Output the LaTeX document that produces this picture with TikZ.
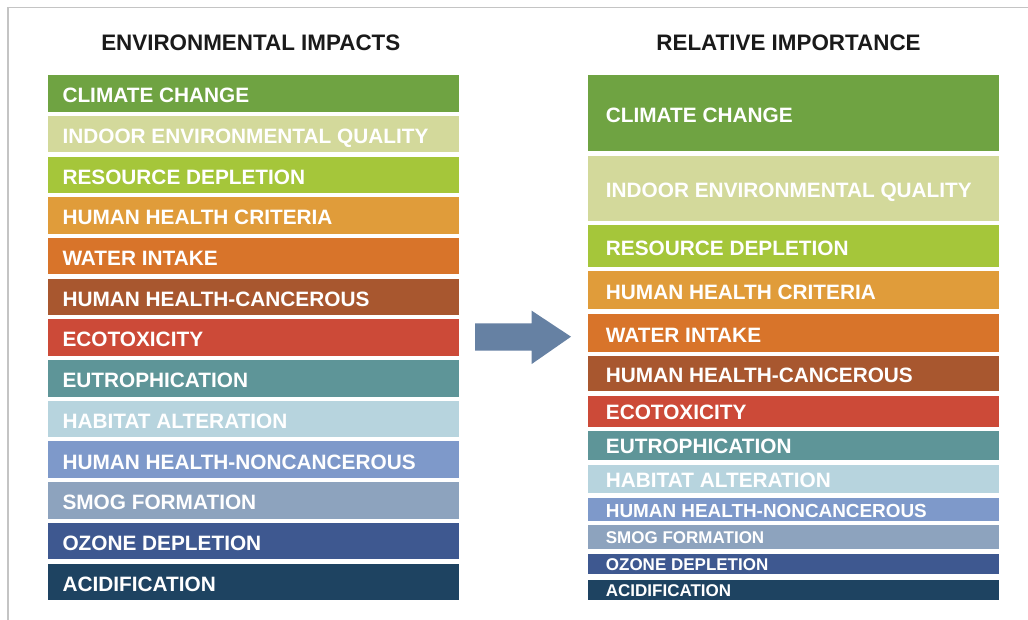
\documentclass[tikz,border=0pt]{standalone}
\usepackage{fontspec}
\setmainfont{Liberation Sans}
\usetikzlibrary{calc}
\definecolor{cCC}{HTML}{6FA342}
\definecolor{cIEQ}{HTML}{D3D99B}
\definecolor{cRD}{HTML}{A5C63A}
\definecolor{cHHC}{HTML}{E09C3A}
\definecolor{cWI}{HTML}{D8742A}
\definecolor{cHCa}{HTML}{A8572F}
\definecolor{cEco}{HTML}{CC4A38}
\definecolor{cEut}{HTML}{5E9598}
\definecolor{cHab}{HTML}{B7D4DE}
\definecolor{cHHN}{HTML}{7E99CA}
\definecolor{cSmog}{HTML}{8DA3BE}
\definecolor{cOzo}{HTML}{3E5890}
\definecolor{cAci}{HTML}{1E4361}
\definecolor{arrowcol}{HTML}{6681A3}
\definecolor{framecol}{HTML}{C4C4C4}
\definecolor{titlecol}{HTML}{1A1A1A}
\begin{document}
\begin{tikzpicture}[x=1pt,y=-1pt,
  bar/.style={rectangle, draw=none, inner sep=0pt, anchor=north west, minimum width=411pt},
  lbl/.style={inner sep=0pt, anchor=base west, text=white, font=\bfseries\fontsize{20.8}{24}\selectfont},
  lblm/.style={lbl, font=\bfseries\fontsize{18.9}{22}\selectfont},
  lbls/.style={lbl, font=\bfseries\fontsize{17}{20}\selectfont},
  ttl/.style={inner sep=0pt, anchor=base, text=titlecol, font=\bfseries\fontsize{22.4}{26}\selectfont}]
\useasboundingbox (0,0) rectangle (1028,620);
\fill[white] (0,0) rectangle (1028,620);
% frame
\coordinate (fA) at (1028,7.3);
\coordinate (fB) at (8,7.3);
\coordinate (fC) at (8,620);
\draw[framecol, line width=1.4pt] (fA) -- (fB) -- (fC);
% titles
\node[ttl] (t1) at (250.8,51) {ENVIRONMENTAL IMPACTS};
\node[ttl] (t2) at (788.5,51) {RELATIVE IMPORTANCE};
% left column
\node[bar, fill=cCC,   minimum height=36.5pt] (l1)  at (47.3,75.0) {};
\node[bar, fill=cIEQ,  minimum height=36.5pt] (l2)  at (47.3,115.7) {};
\node[bar, fill=cRD,   minimum height=36.5pt] (l3)  at (47.3,156.4) {};
\node[bar, fill=cHHC,  minimum height=36.5pt] (l4)  at (47.3,197.1) {};
\node[bar, fill=cWI,   minimum height=36.5pt] (l5)  at (47.3,237.8) {};
\node[bar, fill=cHCa,  minimum height=36.5pt] (l6)  at (47.3,278.5) {};
\node[bar, fill=cEco,  minimum height=36.5pt] (l7)  at (47.3,319.1) {};
\node[bar, fill=cEut,  minimum height=36.5pt] (l8)  at (47.3,359.8) {};
\node[bar, fill=cHab,  minimum height=36.5pt] (l9)  at (47.3,400.5) {};
\node[bar, fill=cHHN,  minimum height=36.5pt] (l10) at (47.3,441.2) {};
\node[bar, fill=cSmog, minimum height=36.5pt] (l11) at (47.3,481.9) {};
\node[bar, fill=cOzo,  minimum height=36.5pt] (l12) at (47.3,522.6) {};
\node[bar, fill=cAci,  minimum height=36.5pt] (l13) at (47.3,563.3) {};
\node[lbl] (lt1)  at ($(l1.west)+(15,9.4)$)  {CLIMATE CHANGE};
\node[lbl] (lt2)  at ($(l2.west)+(15,9.4)$)  {INDOOR ENVIRONMENTAL QUALITY};
\node[lbl] (lt3)  at ($(l3.west)+(15,9.4)$)  {RESOURCE DEPLETION};
\node[lbl] (lt4)  at ($(l4.west)+(15,9.4)$)  {HUMAN HEALTH CRITERIA};
\node[lbl] (lt5)  at ($(l5.west)+(15,9.4)$)  {WATER INTAKE};
\node[lbl] (lt6)  at ($(l6.west)+(15,9.4)$)  {HUMAN HEALTH-CANCEROUS};
\node[lbl] (lt7)  at ($(l7.west)+(15,9.4)$)  {ECOTOXICITY};
\node[lbl] (lt8)  at ($(l8.west)+(15,9.4)$)  {EUTROPHICATION};
\node[lbl] (lt9)  at ($(l9.west)+(15,9.4)$)  {HABITAT ALTERATION};
\node[lbl] (lt10) at ($(l10.west)+(15,9.4)$) {HUMAN HEALTH-NONCANCEROUS};
\node[lbl] (lt11) at ($(l11.west)+(15,9.4)$) {SMOG FORMATION};
\node[lbl] (lt12) at ($(l12.west)+(15,9.4)$) {OZONE DEPLETION};
\node[lbl] (lt13) at ($(l13.west)+(15,9.4)$) {ACIDIFICATION};
% arrow
\fill[arrowcol] (475,323.3) -- (531.7,323.3) -- (531.7,310.7) -- (571,336.7)
  -- (531.7,364) -- (531.7,350.7) -- (475,350.7) -- cycle;
% right column
\node[bar, fill=cCC,   minimum height=76pt]   (r1)  at (587.3,75.0) {};
\node[bar, fill=cIEQ,  minimum height=65pt]   (r2)  at (587.3,155.7) {};
\node[bar, fill=cRD,   minimum height=41.7pt] (r3)  at (587.3,225.0) {};
\node[bar, fill=cHHC,  minimum height=38.6pt] (r4)  at (587.3,270.7) {};
\node[bar, fill=cWI,   minimum height=38pt]   (r5)  at (587.3,313.7) {};
\node[bar, fill=cHCa,  minimum height=35.3pt] (r6)  at (587.3,355.7) {};
\node[bar, fill=cEco,  minimum height=31pt]   (r7)  at (587.3,395.7) {};
\node[bar, fill=cEut,  minimum height=29.3pt] (r8)  at (587.3,430.7) {};
\node[bar, fill=cHab,  minimum height=27.3pt] (r9)  at (587.3,465.0) {};
\node[bar, fill=cHHN,  minimum height=23.4pt] (r10) at (587.3,497.3) {};
\node[bar, fill=cSmog, minimum height=23.3pt] (r11) at (587.3,525.0) {};
\node[bar, fill=cOzo,  minimum height=20.7pt] (r12) at (587.3,553.3) {};
\node[bar, fill=cAci,  minimum height=20.7pt] (r13) at (587.3,579.3) {};
\node[lbl]  (rt1)  at ($(r1.west)+(18.4,9.4)$)  {CLIMATE CHANGE};
\node[lbl]  (rt2)  at ($(r2.west)+(18.4,9.4)$)  {INDOOR ENVIRONMENTAL QUALITY};
\node[lbl]  (rt3)  at ($(r3.west)+(18.4,9.4)$)  {RESOURCE DEPLETION};
\node[lbl]  (rt4)  at ($(r4.west)+(18.4,9.4)$)  {HUMAN HEALTH CRITERIA};
\node[lbl]  (rt5)  at ($(r5.west)+(18.4,9.4)$)  {WATER INTAKE};
\node[lbl]  (rt6)  at ($(r6.west)+(18.4,9.4)$)  {HUMAN HEALTH-CANCEROUS};
\node[lbl]  (rt7)  at ($(r7.west)+(18.4,8.4)$)  {ECOTOXICITY};
\node[lbl]  (rt8)  at ($(r8.west)+(18.4,8.4)$)  {EUTROPHICATION};
\node[lbl]  (rt9)  at ($(r9.west)+(18.4,8.4)$)  {HABITAT ALTERATION};
\node[lblm] (rt10) at ($(r10.west)+(18.4,7.8)$) {HUMAN HEALTH-NONCANCEROUS};
\node[lbls] (rt11) at ($(r11.west)+(18.4,6.8)$) {SMOG FORMATION};
\node[lbls] (rt12) at ($(r12.west)+(18.4,6.6)$) {OZONE DEPLETION};
\node[lbls] (rt13) at ($(r13.west)+(18.4,6.6)$) {ACIDIFICATION};
\end{tikzpicture}
\end{document}
